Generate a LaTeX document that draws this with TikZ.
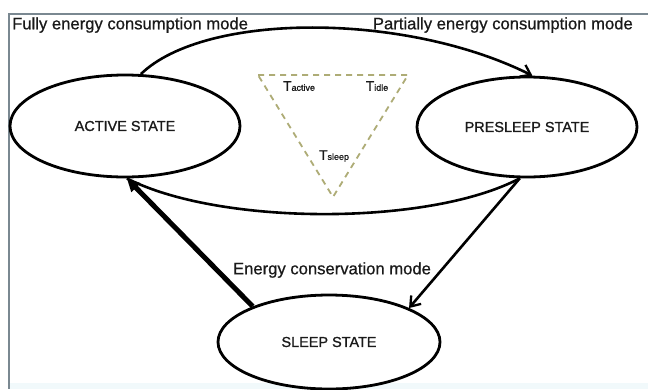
\documentclass[tikz,border=0pt]{standalone}
\usepackage{fontspec}
\setmainfont{Liberation Sans}
\newfontfamily\heavyfont{Liberation Sans}[FakeBold=0.7]
\newfontfamily\statefont{Liberation Sans}[FakeBold=1.1]
\usetikzlibrary{shapes.geometric,arrows.meta}
\definecolor{framegray}{HTML}{7A8891}
\definecolor{tricol}{HTML}{AEAC76}
\definecolor{inkdark}{HTML}{1A1A1A}
\definecolor{bandtint}{HTML}{F1F9FB}
% a timer label: large T with a small tag on the same baseline
\newcommand\tlab[1]{{\fontsize{14}{15}\selectfont T}{\fontsize{9}{10}\selectfont #1}}
\begin{document}
\begin{tikzpicture}[x=1bp,y=-1bp,
  state/.style={ellipse, draw=black, line width=2.8bp, fill=white, inner sep=0pt,
    font=\statefont\fontsize{14.5}{16}\selectfont, text=inkdark},
  modelabel/.style={font=\heavyfont\fontsize{16.7}{18}\selectfont, text=inkdark, inner sep=0pt},
  timerlabel/.style={font=\statefont, text=inkdark, inner sep=0pt},
  flow/.style={line width=2.6bp, draw=black},
  barb/.style={-{Straight Barb[length=9bp,width=13bp,line width=2.3bp]}},
  heavy/.style={line width=5bp, draw=black, -{Triangle[length=13bp,width=12bp]}},
  timerline/.style={draw=tricol, line width=1.8bp, dash pattern=on 6bp off 5bp}
]
\useasboundingbox (0,0) rectangle (648,389);
\fill[white] (0,0) rectangle (648,389);
\fill[bandtint] (9,383) rectangle (648,389);
% window frame
\draw[framegray, line width=2bp] (648,14) -- (9,14) -- (9,389);

% mode captions
\node[modelabel, anchor=west] (fullmode) at (12,25) {Fully energy consumption mode};
\node[modelabel, anchor=east] (partmode) at (633,25) {Partially energy consumption mode};

% timer triangle
\coordinate (tl) at (258,75);
\coordinate (tr) at (408,75);
\coordinate (tb) at (333,197);
\draw[timerline] (tl) -- (tr) -- (tb) -- cycle;
\node[timerlabel] (tact) at (299,86) {\tlab{active}};
\node[timerlabel] (tidle) at (377,86) {\tlab{idle}};
\node[timerlabel] (tsleep) at (334,156) {\tlab{sleep}};

% states
\node[state, minimum width=230bp, minimum height=102bp] (active) at (125,126) {ACTIVE STATE};
\node[state, minimum width=220bp, minimum height=100bp] (presleep) at (527,127) {PRESLEEP STATE};
\node[state, minimum width=222bp, minimum height=94bp] (sleep) at (329,342) {SLEEP STATE};

% transitions
\draw[flow, barb] (active.73) .. controls (205,12) and (405,12) .. (presleep.84);
\draw[flow] (presleep.262) .. controls (430,226) and (220,226) .. (active.272);
\draw[flow, barb] (presleep.262) -- (sleep.23);
\draw[heavy] (sleep.155) -- (active.272);

\node[modelabel] (conserv) at (332,270) {Energy conservation mode};
\end{tikzpicture}
\end{document}
